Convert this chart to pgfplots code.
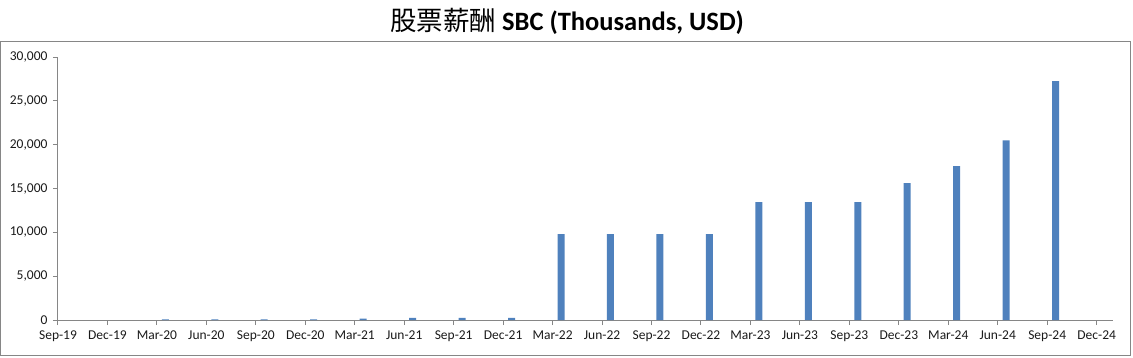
\documentclass[border=0pt]{standalone}
\usepackage{fontspec}
\setmainfont{Carlito}
\newfontfamily\cjk{Noto Sans CJK SC}
\usepackage{pgfplots}
\pgfplotsset{compat=1.18}
\definecolor{barblue}{HTML}{4F81BD}
\definecolor{axgray}{HTML}{868686}
\definecolor{txt}{HTML}{1A1A1A}
\begin{document}
\begin{tikzpicture}[x=1pt,y=1pt]
\useasboundingbox (-58,-37) rectangle (1075,320);
\draw[color=axgray, line width=1pt] (-57,-35) rectangle (1072,278);
\node[font=\fontsize{26.5}{30}\selectfont, text=black] at (509,299) {{\cjk 股票薪酬} \textbf{SBC (Thousands, USD)}};
\begin{axis}[
  at={(0,0)}, anchor=south west,
  width=1055pt, height=263pt, scale only axis,
  xmin=0, xmax=21.33, ymin=0, ymax=30000,
  axis lines*=left,
  axis line style={color=axgray, line width=1pt, -},
  xtick={0,...,21},
  xticklabels={Sep-19,Dec-19,Mar-20,Jun-20,Sep-20,Dec-20,Mar-21,Jun-21,Sep-21,Dec-21,Mar-22,Jun-22,Sep-22,Dec-22,Mar-23,Jun-23,Sep-23,Dec-23,Mar-24,Jun-24,Sep-24,Dec-24},
  ytick={0,5000,...,30000},
  scaled y ticks=false,
  /pgf/number format/1000 sep={,},
  /pgf/number format/assume math mode=true,
  tick style={color=axgray, line width=1pt},
  tick align=outside,
  major tick length=5pt,
  xtick pos=bottom, ytick pos=left,
  ticklabel style={font=\fontsize{13.5}{15}\selectfont, text=txt},
  xticklabel style={yshift=-2pt},
  yticklabel style={xshift=-2pt},
  ybar, bar width=7pt, bar shift=0pt,
  clip=false,
]
\addplot[fill=barblue, draw=none] coordinates {
(2.17,60) (3.17,60) (4.17,60) (5.17,60) (6.17,150) (7.17,250) (8.17,250) (9.17,250)
(10.17,9800) (11.17,9800) (12.17,9800) (13.17,9800)
(14.17,13450) (15.17,13450) (16.17,13450) (17.17,15600)
(18.17,17550) (19.17,20500) (20.17,27250)
};
\end{axis}
\end{tikzpicture}
\end{document}
